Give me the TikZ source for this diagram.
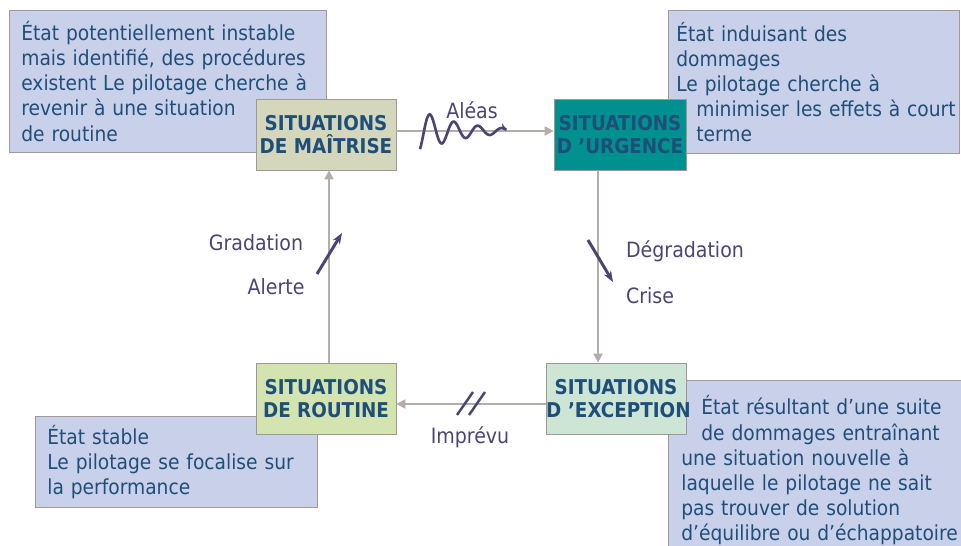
\documentclass[tikz,border=0pt]{standalone}
\usepackage{fontspec}
\setmainfont{DejaVu Sans Condensed}
\usetikzlibrary{arrows.meta}

\definecolor{boxblue}{RGB}{201,209,234}
\definecolor{boxline}{RGB}{160,152,150}
\definecolor{textblue}{RGB}{31,78,121}
\definecolor{marktxt}{RGB}{75,69,115}
\definecolor{flowgray}{RGB}{181,173,170}
\definecolor{fillmaitrise}{RGB}{213,215,189}
\definecolor{fillurgence}{RGB}{0,144,144}
\definecolor{fillroutine}{RGB}{211,228,176}
\definecolor{fillexception}{RGB}{204,229,213}

\newcommand*{\retrait}{\hspace*{0.4cm}}

\begin{document}
\begin{tikzpicture}
[
	x=0.02cm, y=-0.02cm,
	infobox/.style={draw=boxline,fill=boxblue,anchor=north west,inner xsep=0.24cm,inner ysep=0pt,
		align=left,text=textblue,font=\fontsize{11.8}{14.3}\selectfont},
	statebox/.style={draw=boxline,inner sep=0pt,minimum width=2.8cm,minimum height=1.42cm,
		align=center,text=textblue,font=\bfseries\fontsize{11.6}{12.8}\selectfont},
	flowline/.style={draw=flowgray,line width=1.1pt,-{Triangle[length=0.18cm,width=0.18cm]}},
	markline/.style={draw=marktxt,line width=1.7pt},
	labeltxt/.style={text=marktxt,font=\fontsize{12}{13}\selectfont},
]

	\useasboundingbox (0,0) rectangle (961,545);

	% comment boxes and states
	\node[infobox,text width=5.86cm,minimum height=2.84cm] (infomaitrise) at (9,10)
		{État potentiellement instable\\mais identifié, des procédures\\existent Le pilotage cherche à\\revenir à une situation\\de routine};
	\node[statebox,fill=fillmaitrise] (maitrise) at (326,134.5) {SITUATIONS\\DE MAÎTRISE};

	\node[infobox,text width=5.5cm,minimum height=2.86cm,inner xsep=0.16cm] (infourgence) at (668,10)
		{État induisant des\\dommages\\Le pilotage cherche à\\\mbox{\retrait minimiser les effets à court}\\\retrait terme};
	\node[statebox,fill=fillurgence,minimum width=2.64cm] (urgence) at (620,134.5) {SITUATIONS\\D 'URGENCE};

	\node[infobox,text width=5.16cm,minimum height=1.82cm] (inforoutine) at (35,416)
		{État stable\\Le pilotage se focalise sur\\la performance};
	\node[statebox,fill=fillroutine] (routine) at (326,398.5) {SITUATIONS\\DE ROUTINE};

	\node[infobox,text width=5.8cm,minimum height=3.6cm,inner xsep=0.26cm] (infoexception) at (668,380)
		{\retrait État résultant d’une suite\\\retrait de dommages entraînant\\une situation nouvelle à\\laquelle le pilotage ne sait\\pas trouver de solution\\d’équilibre ou d’échappatoire};
	\node[statebox,fill=fillexception,text width=2.8cm] (exception) at (616,398.5) {SITUATIONS\\\mbox{D 'EXCEPTION}};

	% transitions
	\draw[flowline] ([yshift=0.07cm]maitrise.east) -- ([yshift=0.07cm]urgence.west);
	\draw[flowline] ([xshift=-0.44cm]urgence.south) -- ([xshift=-0.36cm]exception.north);
	\draw[flowline] ([yshift=-0.11cm]exception.west) -- ([yshift=-0.11cm]routine.east);
	\draw[flowline] ([xshift=0.06cm]routine.north) -- ([xshift=0.06cm]maitrise.south);

	% marks
	\draw[markline,line width=1.5pt,-{Stealth[length=0.16cm]},domain=420:507,samples=100,smooth]
		plot (\x,{131-21*exp(-(\x-420)/42)*sin((\x-424)*15)});
	\draw[markline,-{Stealth[length=0.22cm]}] (317,274) -- (342,233);
	\draw[markline,-{Stealth[length=0.22cm]}] (588,240) -- (613,282);
	\foreach \dx in {0,12}
		\draw[markline,line width=1.4pt] (457+\dx,415) -- (473+\dx,392);

	\node[labeltxt] (aleas) at (472,110) {Aléas};
	\node[labeltxt] (gradation) at (256,243) {Gradation};
	\node[labeltxt] (alerte) at (276,287) {Alerte};
	\node[labeltxt] (degradation) at (685,251) {Dégradation};
	\node[labeltxt] (crise) at (650,296) {Crise};
	\node[labeltxt] (imprevu) at (470,437) {Imprévu};

\end{tikzpicture}
\end{document}
